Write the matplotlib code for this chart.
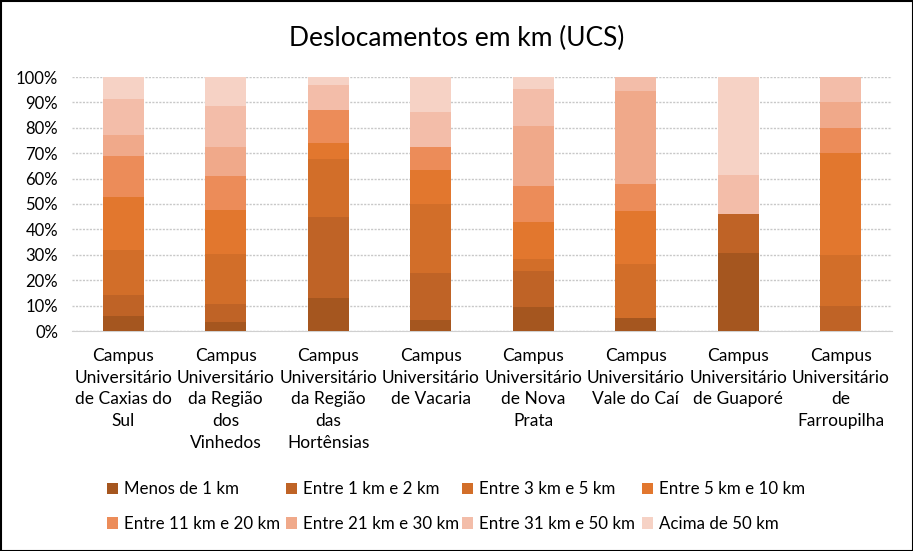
import matplotlib
matplotlib.use("Agg")
import matplotlib.pyplot as plt
import numpy as np

categories = [
    "Campus\nUniversitário\nde Caxias do\nSul",
    "Campus\nUniversitário\nda Região\ndos\nVinhedos",
    "Campus\nUniversitário\nda Região\ndas\nHortênsias",
    "Campus\nUniversitário\nde Vacaria",
    "Campus\nUniversitário\nde Nova\nPrata",
    "Campus\nUniversitário\nVale do Caí",
    "Campus\nUniversitário\nde Guaporé",
    "Campus\nUniversitário\nde\nFarroupilha",
]
series_names = ["Menos de 1 km", "Entre 1 km e 2 km", "Entre 3 km e 5 km", "Entre 5 km e 10 km",
                "Entre 11 km e 20 km", "Entre 21 km e 30 km", "Entre 31 km e 50 km", "Acima de 50 km"]
menos_1 = [5.9, 3.5, 13.0, 4.3, 9.4, 5.1, 30.8, 0.0]
km_1_2 = [8.3, 7.1, 31.9, 18.5, 14.2, 0.0, 15.4, 10.0]
km_3_5 = [17.7, 19.7, 22.8, 27.2, 4.7, 21.3, 0.0, 20.0]
km_5_10 = [20.9, 17.3, 6.3, 13.4, 14.6, 20.8, 0.0, 40.0]
km_11_20 = [16.1, 13.4, 13.0, 9.0, 14.2, 10.6, 0.0, 10.0]
km_21_30 = [8.3, 11.4, 0.0, 0.0, 23.6, 36.6, 0.0, 10.0]
km_31_50 = [14.1, 16.2, 9.9, 13.8, 14.6, 5.5, 15.4, 10.0]
acima_50 = [8.7, 11.4, 3.1, 13.8, 4.7, 0.0, 38.4, 0.0]
series = [menos_1, km_1_2, km_3_5, km_5_10, km_11_20, km_21_30, km_31_50, acima_50]
colors = ["#A5561F", "#BF6326", "#D26E29", "#E2772E", "#EC8C59", "#F0A98A", "#F3BDA9", "#F6D2C5"]
yticks = [0, 10, 20, 30, 40, 50, 60, 70, 80, 90, 100]

font = ["Lato", "DejaVu Sans"]
plt.rcParams["font.family"] = font

fig = plt.figure(figsize=(9.13, 5.51), dpi=100)
ax = fig.add_axes([72/913, 1-331/551, 820/913, 254/551])

x = np.arange(len(categories))
bottom = np.zeros(len(categories))
handles = []
for name, vals, c in zip(series_names, series, colors):
    v = np.array(vals, dtype=float)
    h = ax.bar(x, v, 0.4, bottom=bottom, color=c, label=name, zorder=3)
    handles.append(h)
    bottom += v

ax.set_xlim(-0.5, len(categories) - 0.5)
ax.set_ylim(0, 100)
ax.set_yticks(yticks)
ax.set_yticklabels([f"{t}%" for t in yticks], fontsize=12, color="#000000")
ax.set_xticks(x)
ax.set_xticklabels(categories, fontsize=12.5, linespacing=1.45, color="#000000")
ax.tick_params(axis="both", length=0)
ax.tick_params(axis="x", pad=12)
ax.tick_params(axis="y", pad=10)
for s in ["top", "right", "left"]:
    ax.spines[s].set_visible(False)
ax.spines["bottom"].set_color("#D0D0D0")
ax.yaxis.grid(True, color="#C8C8C8", linewidth=1, linestyle=(0, (1.5, 1)), zorder=0)

fig.text(457/913, 1-38/551, "Deslocamentos em km (UCS)", ha="center", va="center", fontsize=19)

col_x = [107, 286, 462, 642]
for ci in range(4):
    idx = [ci, ci + 4]
    leg = fig.legend([handles[i] for i in idx], [series_names[i] for i in idx],
                     loc="center left", bbox_to_anchor=(col_x[ci]/913, 1-506.5/551), ncol=1,
                     frameon=False, fontsize=12.2, handlelength=0.65, handleheight=0.65,
                     handletextpad=0.35, labelspacing=1.1, borderpad=0, borderaxespad=0)

fig.patches.append(plt.Rectangle((0.5/913, 0.5/551), 1-1/913, 1-1/551, transform=fig.transFigure,
                                 fill=False, edgecolor="#000000", linewidth=1.5))
fig.savefig("out.png", dpi=100)
